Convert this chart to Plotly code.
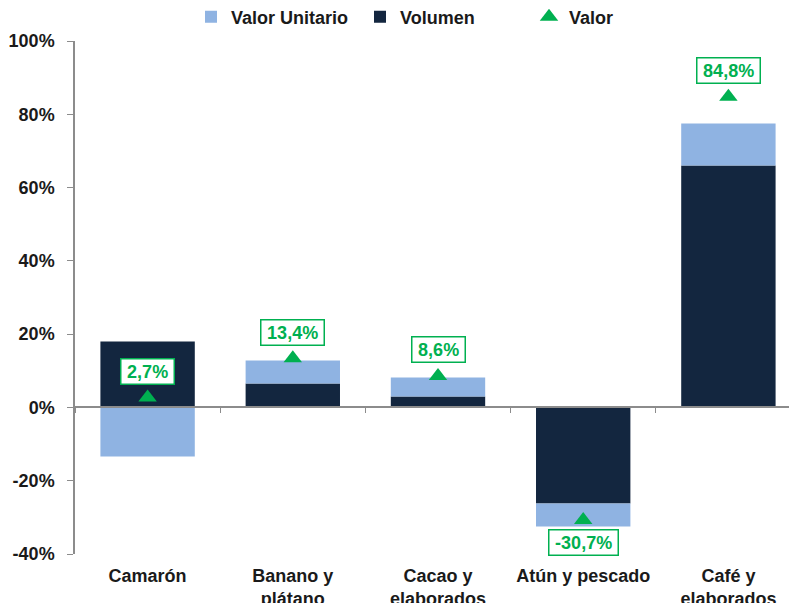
import plotly.graph_objs as go

###############
#  DATA       #
###############

categories = ["Camarón", "Banano y<br>plátano", "Cacao y<br>elaborados",
              "Atún y pescado", "Café y<br>elaborados"]
volumen = [18.0, 6.5, 3.0, -26.2, 66.0]
valor_unitario = [-13.4, 6.3, 5.2, -6.3, 11.5]
valor = [2.7, 13.4, 8.6, -30.7, 84.8]

y_ticks = [-40, -20, 0, 20, 40, 60, 80, 100]
y_ticktext = [f"{v}%" for v in y_ticks]

DARK = "#13263F"
LIGHT = "#8FB3E2"
GREEN = "#00B050"
AXIS_GREY = "#8C8C8C"
FONT = "Liberation Sans, Arial, sans-serif"
BOLD18 = {"family": FONT, "size": 18, "color": "#1A1A1A", "weight": "bold"}

# the page body adds ~8px around the figure, margins are set to compensate
OFFSET = 8
PLOT_W = 726

fig = go.Figure()

# stacked bars
fig.add_trace(
    go.Bar(
        x = categories,
        y = volumen,
        name = "Volumen",
        marker = {"color": DARK, "line": {"width": 0}},
        legendrank = 2
    )
)
fig.add_trace(
    go.Bar(
        x = categories,
        y = valor_unitario,
        name = "Valor Unitario",
        marker = {"color": LIGHT, "line": {"width": 0}},
        legendrank = 1
    )
)

# valor markers (on overlay axis that also draws the zero line)
fig.add_trace(
    go.Scatter(
        x = categories,
        y = valor,
        xaxis = "x2",
        name = "Valor",
        mode = "markers",
        marker = {"symbol": "triangle-up", "size": 16, "color": GREEN},
        legendrank = 3
    )
)

# boxed labels for valor
for cat, v in zip(categories, valor):
    fig.add_annotation(
        x = cat,
        y = v,
        xref = "x",
        yref = "y",
        text = "\u2009<b>" + f"{v:.1f}".replace(".", ",") + "%</b>\u2009",
        showarrow = False,
        yshift = 26 if v >= 0 else -23,
        font = {"family": FONT, "size": 18, "color": GREEN},
        bgcolor = "white",
        bordercolor = GREEN,
        borderwidth = 1.5,
        borderpad = 2
    )

fig.update_layout(
    width = 797,
    height = 603,
    barmode = "relative",
    bargap = 0.35,
    plot_bgcolor = "white",
    paper_bgcolor = "white",
    margin = {"l": 75 - OFFSET, "r": 797 - (75 - OFFSET) - PLOT_W,
              "t": 41 - OFFSET, "b": 49 + OFFSET, "autoexpand": False},
    font = {"family": FONT, "size": 18, "color": "#1A1A1A"},
    showlegend = True,
    legend = {
        "orientation": "h",
        "xref": "paper",
        "x": (191 - 75) / PLOT_W,
        "xanchor": "left",
        "yref": "container",
        "y": 1 - (17 - OFFSET) / 603,
        "yanchor": "middle",
        "font": BOLD18,
        "entrywidth": 124,
        "itemwidth": 30,
        "bgcolor": "rgba(0,0,0,0)"
    },
    xaxis = {
        "type": "category",
        "range": [-0.5, 4.5],
        "automargin": False,
        "showline": False,
        "showgrid": False,
        "zeroline": False,
        "ticks": "outside",
        "ticklen": 5,
        "tickcolor": "white",
        "tickfont": BOLD18
    },
    xaxis2 = {
        "type": "category",
        "overlaying": "x",
        "anchor": "free",
        "position": 40 / 140,
        "range": [-0.5, 4.5],
        "automargin": False,
        "showline": True,
        "linecolor": AXIS_GREY,
        "linewidth": 1.5,
        "showgrid": False,
        "zeroline": False,
        "ticks": "outside",
        "tickson": "boundaries",
        "ticklen": 5,
        "tickcolor": AXIS_GREY,
        "showticklabels": False
    },
    yaxis = {
        "range": [-40, 100],
        "tickvals": y_ticks,
        "ticktext": y_ticktext,
        "automargin": False,
        "showgrid": False,
        "zeroline": False,
        "showline": True,
        "linecolor": AXIS_GREY,
        "linewidth": 1.5,
        "ticks": "outside",
        "ticklen": 6,
        "tickcolor": AXIS_GREY,
        "ticklabelstandoff": 9,
        "tickfont": BOLD18
    }
)

fig.write_html("out.html")
